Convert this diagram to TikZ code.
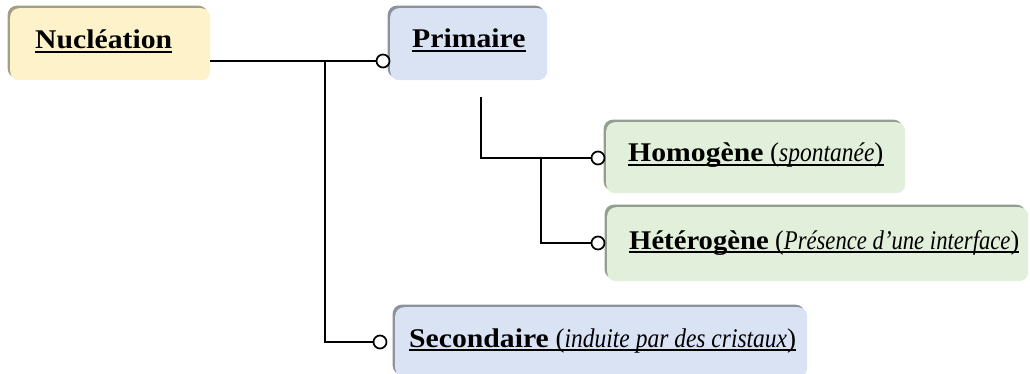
\documentclass[tikz,border=0pt]{standalone}
\usepackage{fontspec}
\setmainfont{Liberation Serif}[
  BoldFeatures={FakeStretch=1.1},
  ItalicFeatures={FakeStretch=0.87}]
\usetikzlibrary{shadows}

\definecolor{yellowfill}{HTML}{FEF2CB}
\definecolor{yellowedge}{HTML}{A39E86}
\definecolor{bluefill}{HTML}{DAE3F3}
\definecolor{blueedge}{HTML}{8C939C}
\definecolor{greenfill}{HTML}{E2EFDA}
\definecolor{greenedge}{HTML}{949E8E}

\tikzset{
  box/.style={rectangle, rounded corners=9pt, draw=none, anchor=north west,
    inner sep=0pt, general shadow={shadow xshift=-2.5pt, shadow yshift=2.5pt, fill=#1edge}, fill=#1fill},
  label/.style={anchor=base west, inner sep=0pt, font=\fontsize{27}{30}\selectfont},
  uline/.style={line width=1.8pt},
  conn/.style={line width=1.7pt},
  dot/.style={circle, draw, fill=white, line width=1.7pt, minimum size=13pt, inner sep=0pt},
}

\newcommand{\ul}[1]{\draw[uline] ([yshift=-3.2pt]#1.base west) -- ([yshift=-3.2pt]#1.base east);}

\begin{document}
\begin{tikzpicture}[x=1pt, y=-1pt]
  \useasboundingbox (0,0) rectangle (1030,374);

  % boxes
  \node[box=yellow, minimum width=200pt, minimum height=72pt] (nucbox) at (10,8) {};
  \node[box=blue,   minimum width=157pt, minimum height=72pt] (pribox) at (390,8) {};
  \node[box=green,  minimum width=299pt, minimum height=71pt] (homobox) at (606,122) {};
  \node[box=green,  minimum width=421pt, minimum height=74pt] (hetbox) at (607,207) {};
  \node[box=blue,   minimum width=412pt, minimum height=70pt] (secbox) at (395,307) {};

  % texts
  \node[label] (nuc) at (35,49) {\textbf{Nucléation}};
  \node[label] (pri) at (412,48) {\textbf{Primaire}};
  \node[label] (homo) at (628,162) {\textbf{Homogène} (\textit{spontanée})};
  \node[label] (het) at (629,249) {\scalebox{0.965}[1]{\textbf{Hétérogène} (\textit{Présence d’une interface})}};
  \node[label] (sec) at (409,347) {\textbf{Secondaire} (\textit{induite par des cristaux})};
  \ul{nuc} \ul{pri} \ul{homo} \ul{het} \ul{sec}

  % connector ends
  \node[dot] (d1) at (383,61) {};
  \node[dot] (d2) at (598,158) {};
  \node[dot] (d3) at (598,243) {};
  \node[dot] (d4) at (380,342) {};
  \coordinate (j1) at (325,61);
  \coordinate (p0) at (481,97);
  \coordinate (j2) at (541,158);

  % connectors
  \draw[conn] (nucbox.east |- d1) -- (d1.west);
  \draw[conn] (j1) |- (d4.west);
  \draw[conn] (p0) |- (d2.west);
  \draw[conn] (j2) |- (d3.west);
\end{tikzpicture}
\end{document}
